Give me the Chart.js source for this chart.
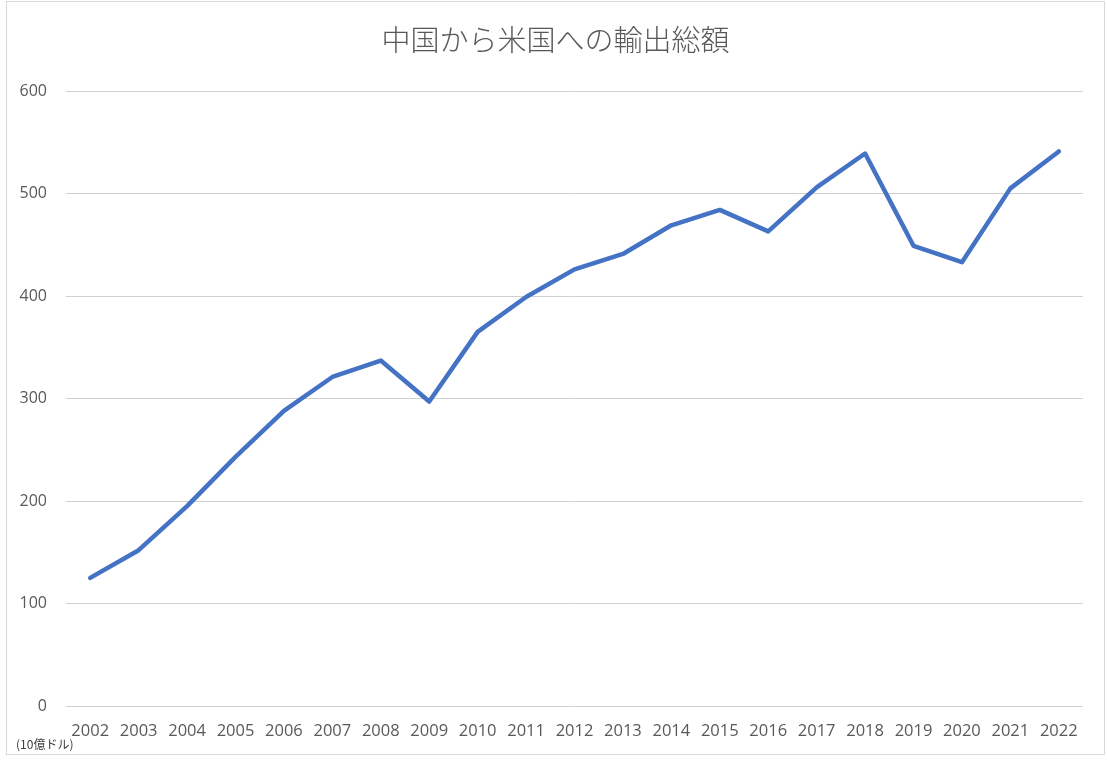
<!DOCTYPE html>
<html lang="ja">
<head>
<meta charset="utf-8">
<title>中国から米国への輸出総額</title>
<script src="https://cdn.jsdelivr.net/npm/chart.js@4.4.1/dist/chart.umd.min.js"></script>
<style>
  html, body { margin: 0; padding: 0; background: #fff; }
  #frame { position: absolute; left: 6px; top: 1px; width: 1097px; height: 752px; border: 1px solid #d9d9d9; }
  #unit { position: absolute; left: 16px; top: 735px; font: 12px "Noto Sans CJK JP", sans-serif; color: #404040; }
</style>
</head>
<body>
<div id="frame"><canvas id="exportChart" width="1097" height="752"></canvas></div>
<div id="unit">(10億ドル)</div>
<script>
'use strict';

var chartTitle = '中国から米国への輸出総額';
var years = ['2002', '2003', '2004', '2005', '2006', '2007', '2008', '2009', '2010', '2011', '2012',
  '2013', '2014', '2015', '2016', '2017', '2018', '2019', '2020', '2021', '2022'];
var exportValues = [125, 152, 195, 243, 288, 321, 337, 297, 365, 399, 426,
  441, 469, 484, 463, 506, 539, 449, 433, 505, 541];
var yTicks = [0, 100, 200, 300, 400, 500, 600];

(function initExportChart() {
  var canvas = document.getElementById('exportChart');
  var ctx = canvas.getContext('2d');
  var textColor = '#595959';
  var gridColor = '#d0d0d0';

  // title centred on the whole frame, not on the padded layout box
  var centredTitle = {
    id: 'centredTitle',
    afterDraw: function (chart) {
      var c = chart.ctx;
      c.save();
      c.fillStyle = textColor;
      c.font = '300 29px "Noto Sans CJK JP", sans-serif';
      c.textAlign = 'center';
      c.textBaseline = 'middle';
      c.fillText(chartTitle, chart.width / 2, 38);
      c.restore();
    }
  };

  new Chart(ctx, {
    type: 'line',
    data: {
      labels: years,
      datasets: [{
        label: '輸出総額',
        data: exportValues,
        borderColor: '#4472C4',
        borderWidth: 4.5,
        borderJoinStyle: 'round',
        borderCapStyle: 'round',
        pointRadius: 0,
        tension: 0,
        fill: false
      }]
    },
    options: {
      animation: false,
      responsive: false,
      layout: { padding: { left: 0, right: 21, top: 89, bottom: 0 } },
      plugins: {
        legend: { display: false },
        tooltip: { enabled: false },
        title: { display: false }
      },
      scales: {
        x: {
          offset: true,
          grid: { display: false, drawTicks: false },
          border: { display: false },
          ticks: { color: textColor, padding: 15, maxRotation: 0, autoSkip: false,
            font: { family: '"Open Sans", sans-serif', size: 16.5 } },
          afterFit: function (scale) { scale.height = 48; }
        },
        y: {
          min: 0,
          max: 600,
          afterBuildTicks: function (scale) { scale.ticks = yTicks.map(function (v) { return { value: v }; }); },
          grid: { color: gridColor, lineWidth: 1, drawTicks: false },
          border: { display: false },
          ticks: { color: textColor, padding: 19,
            font: { family: '"Open Sans", sans-serif', size: 16 } },
          afterFit: function (scale) { scale.width = 59; }
        }
      }
    },
    plugins: [centredTitle]
  });
})();
</script>
</body>
</html>
